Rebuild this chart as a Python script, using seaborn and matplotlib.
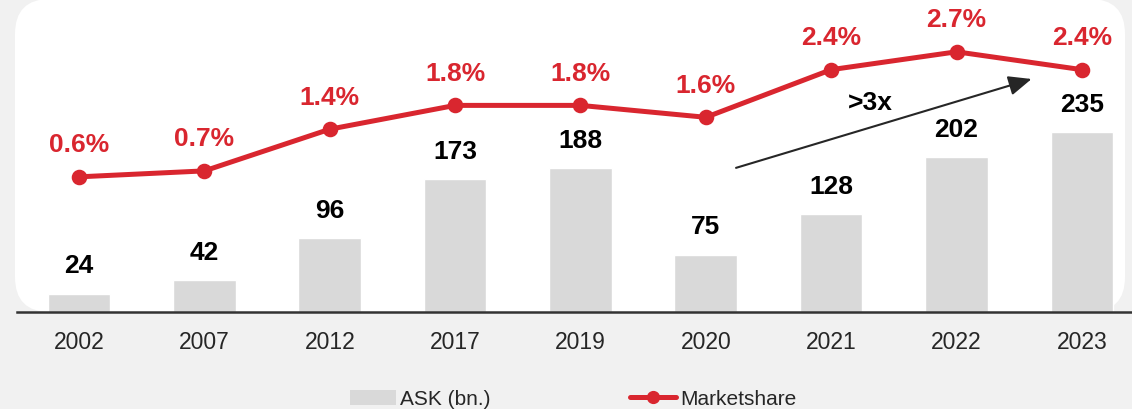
import numpy as np
import pandas as pd
import seaborn as sns
import matplotlib.pyplot as plt
from matplotlib.patches import FancyBboxPatch, Patch
from matplotlib.lines import Line2D
from matplotlib.transforms import IdentityTransform

sns.set_style("white")
plt.rcParams['font.family'] = ['Liberation Sans', 'DejaVu Sans']

# data
years = ['2002', '2007', '2012', '2017', '2019', '2020', '2021', '2022', '2023']
ask = [24, 42, 96, 173, 188, 75, 128, 202, 235]
share = [0.6, 0.7, 1.4, 1.8, 1.8, 1.6, 2.4, 2.7, 2.4]

df = pd.DataFrame({'year': years, 'ask': ask, 'share': share})

bar_color = '#d9d9d9'
red = '#d9262f'
dark = '#262626'

fig = plt.figure(figsize=(11.32, 4.09), dpi=100)
fig.patch.set_facecolor('#f1f1f1')

# white rounded panel behind the plot
panel = FancyBboxPatch((15, 97), 1110, 313, boxstyle="round,pad=0,rounding_size=35",
                       transform=IdentityTransform(), facecolor='white', edgecolor='none', zorder=0)
fig.add_artist(panel)

ax = fig.add_axes([17 / 1132, 97 / 409, 1 - 17 / 1132, 312 / 409])
ax.patch.set_visible(False)

sns.barplot(data=df, x='year', y='ask', ax=ax, color=bar_color, width=0.5, saturation=1)
ax.bar_label(ax.containers[0], padding=11, fontsize=19, fontweight='bold', color='black')

ax2 = ax.twinx()
sns.pointplot(data=df, x='year', y='share', ax=ax2, color=red, markers='o', linestyles='-',
              errorbar=None, linewidth=3.6, markersize=8.5)
for i, v in enumerate(share):
    ax2.annotate(f'{v:.1f}%', (i, v), xytext=(0, 14), textcoords='offset points',
                 ha='center', va='bottom', fontsize=19, fontweight='bold', color=red)

ax.set_ylim(0, 407)
ax2.set_ylim(-1.67, 3.57)
ax.set_xlim(-0.495, 8.4)

# growth arrow
ax.annotate('', xy=(7.62, 305), xytext=(5.22, 187),
            arrowprops=dict(arrowstyle='-|>,head_length=1.4,head_width=0.6', color=dark, lw=1.5))
ax.text(6.31, 273, '>3x', ha='center', va='center', fontsize=19, fontweight='bold', color='black')

ax.set_xlabel('')
ax.set_ylabel('')
ax2.set_ylabel('')
ax.set_yticks([])
ax2.set_yticks([])
ax.tick_params(axis='x', length=0, pad=14, labelsize=16.5, labelcolor=dark)
for s in ['top', 'right', 'left']:
    ax.spines[s].set_visible(False)
    ax2.spines[s].set_visible(False)
ax2.spines['bottom'].set_visible(False)
ax.spines['bottom'].set_color('#333333')
ax.spines['bottom'].set_linewidth(1.8)

handles = [Patch(facecolor=bar_color, edgecolor='none'),
           Line2D([0], [0], color=red, lw=3.6, marker='o', markersize=8.5)]
fig.legend(handles, ['ASK (bn.)', 'Marketshare'], loc='lower center', bbox_to_anchor=(573 / 1132, -0.045),
           ncol=2, frameon=False, fontsize=15, columnspacing=6.7, handlelength=2.2, handletextpad=0.2,
           labelcolor=dark)

fig.savefig('out.png', dpi=100, facecolor=fig.get_facecolor())
